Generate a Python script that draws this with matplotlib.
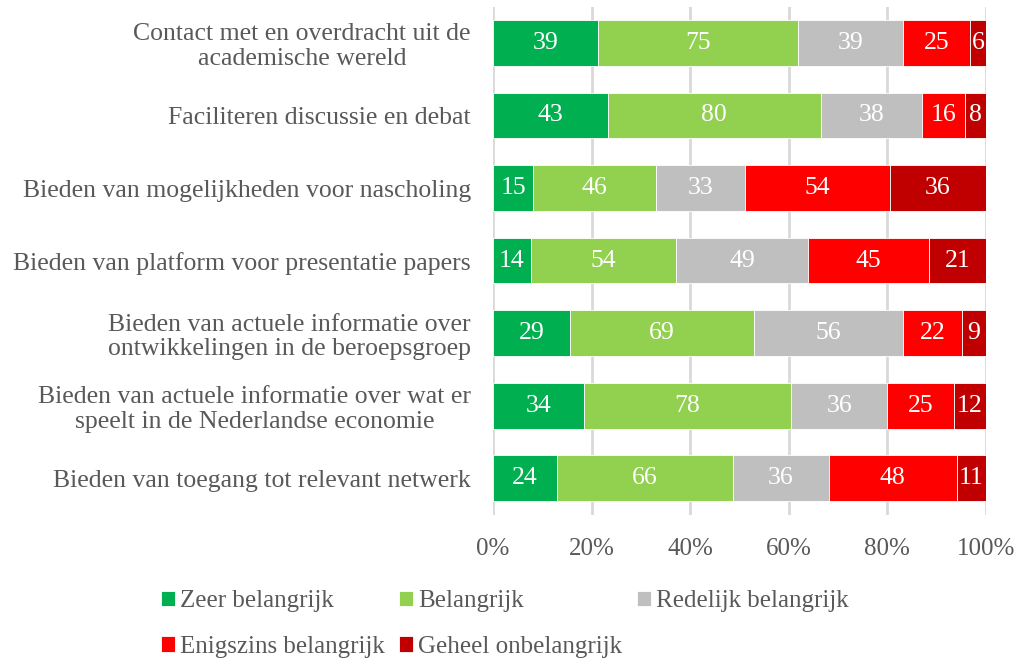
import numpy as np
import matplotlib
matplotlib.use("Agg")
import matplotlib.pyplot as plt
from matplotlib.ticker import PercentFormatter

plt.rcParams['font.family'] = ['Liberation Serif', 'DejaVu Serif']

categories = [
    "Contact met en overdracht uit de\nacademische wereld",
    "Faciliteren discussie en debat",
    "Bieden van mogelijkheden voor nascholing",
    "Bieden van platform voor presentatie papers",
    "Bieden van actuele informatie over\nontwikkelingen in de beroepsgroep",
    "Bieden van actuele informatie over wat er\nspeelt in de Nederlandse economie",
    "Bieden van toegang tot relevant netwerk",
]
series_names = ["Zeer belangrijk", "Belangrijk", "Redelijk belangrijk",
                "Enigszins belangrijk", "Geheel onbelangrijk"]
zeer = [39, 43, 15, 14, 29, 34, 24]
belangrijk = [75, 80, 46, 54, 69, 78, 66]
redelijk = [39, 38, 33, 49, 56, 36, 36]
enigszins = [25, 16, 54, 45, 22, 25, 48]
geheel = [6, 8, 36, 21, 9, 12, 11]
colors = ["#00B050", "#92D050", "#BFBFBF", "#FF0000", "#C00000"]

data = np.array([zeer, belangrijk, redelijk, enigszins, geheel], dtype=float)
totals = data.sum(axis=0)
pct = data / totals * 100

fig = plt.figure(figsize=(10.17, 6.58), dpi=100)
ax = fig.add_axes([0.4848, 0.218, 0.4847, 0.772])

y = np.arange(len(categories))
left = np.zeros(len(categories))
handles = []
for i in range(len(series_names)):
    bars = ax.barh(y, pct[i], left=left, height=0.63, color=colors[i],
                   edgecolor='white', linewidth=0.6, label=series_names[i], zorder=3)
    handles.append(bars)
    for j in range(len(categories)):
        ax.text(left[j] + pct[i][j] / 2, y[j], str(int(data[i][j])),
                ha='center', va='center', color='white', fontsize=18.5, zorder=4)
    left += pct[i]

ax.set_xlim(0, 100)
ax.set_ylim(len(categories) - 0.5, -0.5)
ax.set_yticks(y)
ax.set_yticklabels(categories, multialignment='center', linespacing=1.15)
ax.set_xticks([0, 20, 40, 60, 80, 100])
ax.xaxis.set_major_formatter(PercentFormatter(decimals=0))
ax.tick_params(axis='y', length=0, pad=16, labelsize=18.5, labelcolor='#595959')
ax.tick_params(axis='x', length=0, pad=17, labelsize=18, labelcolor='#595959')
ax.grid(axis='x', color='#D9D9D9', linewidth=2, zorder=0)
for s in ax.spines.values():
    s.set_visible(False)

order = [0, 3, 1, 4, 2]
fig.legend([handles[k] for k in order], [series_names[k] for k in order],
           ncol=3, loc='lower left', bbox_to_anchor=(0.136, -0.034),
           frameon=False, fontsize=18, labelcolor='#595959',
           handlelength=0.55, handleheight=0.55, handletextpad=0.2,
           columnspacing=0.6, labelspacing=0.95)

fig.savefig("out.png", dpi=100)
